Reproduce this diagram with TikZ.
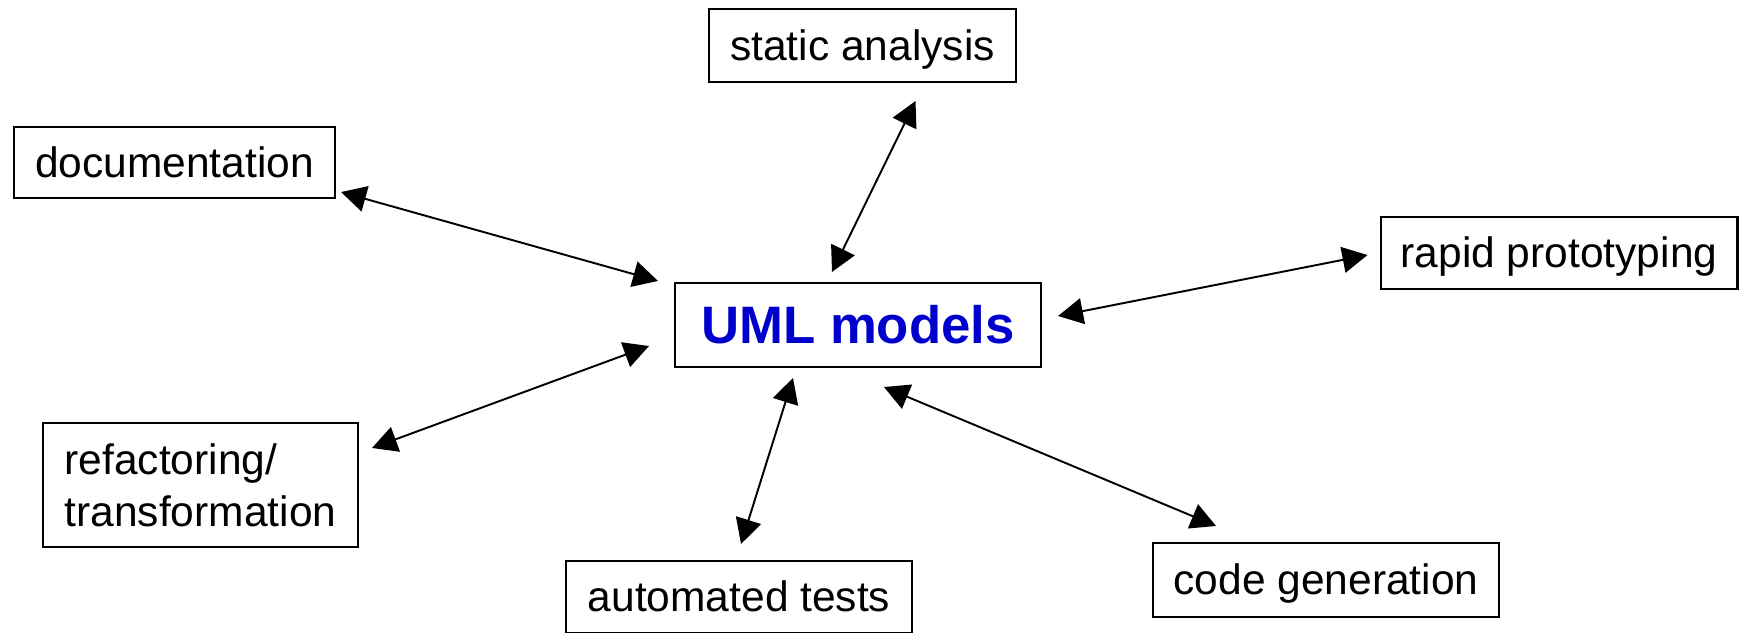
\documentclass[tikz,border=0pt]{standalone}
\usepackage{fontspec}
\setmainfont{Liberation Sans}
\usetikzlibrary{arrows.meta}
\definecolor{umlblue}{RGB}{0,0,204}
\begin{document}
\begin{tikzpicture}[x=0.02cm,y=-0.02cm]
  \tikzset{use box/.style={draw=black, line width=1.2pt, fill=none, inner sep=0pt,
      font=\fontsize{24.2}{29.6}\selectfont},
    one line/.style={text height=21.9pt, text depth=5.1pt},
    link/.style={{Triangle[length=0.5cm,width=0.52cm]}-{Triangle[length=0.5cm,width=0.52cm]}, line width=1.1pt}}
  \useasboundingbox (0,0) rectangle (1740,632);
  \node[use box, text height=27.2pt, text depth=6.4pt, minimum width=7.32cm, minimum height=1.68cm,
    font=\fontsize{30}{36}\selectfont\bfseries, text=umlblue] (uml) at (858,325) {UML models};
  \node[use box, one line, minimum width=6.14cm, minimum height=1.46cm] (static) at (862.5,45.5) {static analysis};
  \node[use box, one line, minimum width=6.42cm, minimum height=1.42cm] (doc) at (174.5,162.5) {documentation};
  \node[use box, one line, minimum width=7.14cm, minimum height=1.44cm] (rapid) at (1559,253) {rapid prototyping};
  \node[use box, minimum width=6.30cm, minimum height=2.48cm, align=left] (refac) at (200.5,485) {refactoring/\\transformation};
  \node[use box, one line, minimum width=6.92cm, minimum height=1.44cm] (tests) at (739,597) {automated tests};
  \node[use box, one line, minimum width=6.92cm, minimum height=1.48cm] (codegen) at (1326,580) {code generation};
  % free ends of the arrows, set off from the boxes
  \coordinate (u1) at ([shift={(-16,-1)}]uml.north west);
  \coordinate (u2) at ([shift={(-26,-10)}]uml.north);
  \coordinate (u3) at ([shift={(16,-9)}]uml.east);
  \coordinate (u4) at ([shift={(-25,21)}]uml.west);
  \coordinate (u5) at ([shift={(-65,10)}]uml.south);
  \coordinate (u6) at ([shift={(26,19)}]uml.south);
  \coordinate (docend) at ([shift={(5,-7)}]doc.south east);
  \coordinate (staticend) at ([shift={(53,18)}]static.south);
  \coordinate (rapidend) at ([shift={(-12,2)}]rapid.west);
  \coordinate (refacend) at ([shift={(13,-37)}]refac.east);
  \coordinate (testsend) at ([shift={(2,-16)}]tests.north);
  \coordinate (codeend) at ([shift={(64,-16)}]codegen.north west);
  \draw[link] (docend) -- (u1);
  \draw[link] (staticend) -- (u2);
  \draw[link] (rapidend) -- (u3);
  \draw[link] (refacend) -- (u4);
  \draw[link] (testsend) -- (u5);
  \draw[link] (codeend) -- (u6);
\end{tikzpicture}
\end{document}
